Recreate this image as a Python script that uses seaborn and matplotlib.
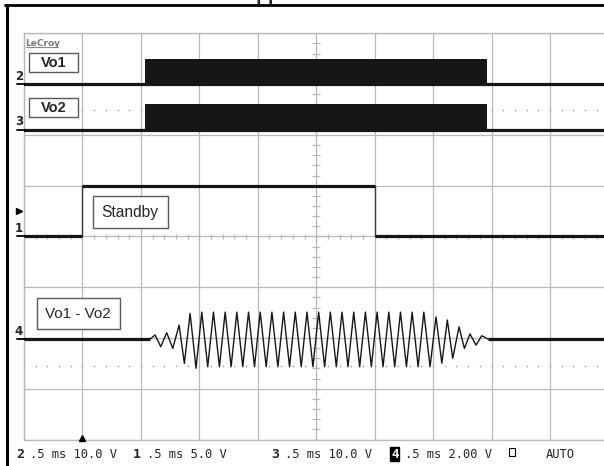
import numpy as np
import pandas as pd
import matplotlib
matplotlib.use("Agg")
import matplotlib.pyplot as plt
import seaborn as sns
from matplotlib.patches import Rectangle
from matplotlib.lines import Line2D
from matplotlib import font_manager

# ---------------- data (time in ms, trigger at 0, 0.5 ms/div) ----------------
t_start, t_end = -0.5, 4.5
volts_per_div = {"1": 5.0, "2": 10.0, "3": 10.0, "4": 2.0}
ground_div = {"1": 4.0, "2": 7.0, "3": 6.1, "4": 1.98}

# Vo1 / Vo2 switching bursts (appear as solid blocks at this time base)
burst_t = [0.536, 3.462]
burst_v = [0.0, 5.0]

# Standby logic signal
standby_t = [-0.5, 0.0, 0.0, 2.5, 2.5, 4.5]
standby_v = [0.0, 0.0, 5.0, 5.0, 0.0, 0.0]
trigger_level_v = 2.5

# Vo1 - Vo2 : extrema
ch4_t = [
    -0.500, 0.580, 0.621, 0.670, 0.721, 0.773, 0.827, 0.872, 0.921, 0.972,
    1.021, 1.072, 1.121, 1.172, 1.221, 1.272, 1.321, 1.372, 1.421, 1.472,
    1.521, 1.572, 1.621, 1.672, 1.721, 1.772, 1.821, 1.872, 1.921, 1.972,
    2.021, 2.072, 2.121, 2.172, 2.221, 2.272, 2.321, 2.372, 2.421, 2.472,
    2.521, 2.572, 2.621, 2.672, 2.721, 2.772, 2.821, 2.872, 2.921, 2.974,
    3.025, 3.075, 3.122, 3.168, 3.222, 3.268, 3.316, 3.368, 3.416, 3.470, 4.500]
ch4_v = [
    0.00, 0.00, 0.16, -0.30, 0.25, -0.37, 0.55, -0.96, 1.01, -1.15,
    1.06, -1.09, 1.06, -1.09, 1.06, -1.09, 1.06, -1.09, 1.06, -1.09,
    1.06, -1.09, 1.06, -1.09, 1.06, -1.09, 1.06, -1.09, 1.06, -1.09,
    1.06, -1.09, 1.06, -1.09, 1.06, -1.09, 1.06, -1.09, 1.06, -1.09,
    1.06, -1.09, 1.06, -1.09, 1.06, -1.09, 1.06, -1.09, 1.06, -1.09,
    0.87, -0.95, 0.75, -0.76, 0.48, -0.37, 0.20, -0.24, 0.13, 0.00, 0.00]

trace_labels = ["Vo1", "Vo2", "Standby", "Vo1 - Vo2"]
setup_channels = ["2", "1", "3", "4"]
setup_texts = [".5 ms 10.0 V", ".5 ms 5.0 V", ".5 ms 10.0 V", ".5 ms 2.00 V"]
trigger_mode = "AUTO"
title = "Application"

# ---------------- figure ----------------
sns.set_style("white")
plt.rcParams["font.family"] = ["Liberation Sans", "DejaVu Sans"]

W, H = 604, 466
fig = plt.figure(figsize=(W / 100, H / 100), dpi=100)

def fx(x):
    return x / W

def fy(y):
    return 1 - y / H

gx0, gx1 = 24.0, 608.4
gy0, gy1 = 33.3, 439.6
ax = fig.add_axes([fx(gx0), fy(gy1), (gx1 - gx0) / W, (gy1 - gy0) / H])
ax.set_xlim(t_start, t_end)
ax.set_ylim(0, 8)
ax.set_xticks(np.arange(t_start, t_end + 0.01, 0.5))
ax.set_yticks(np.arange(0, 9, 1))
ax.tick_params(length=0, labelbottom=False, labelleft=False)
grid_c = "#b9b9b9"
ax.grid(True, color=grid_c, lw=0.9)
for s in ax.spines.values():
    s.set_color(grid_c)
    s.set_linewidth(1.0)
ax.set_facecolor("white")

def to_div(ch, v):
    return ground_div[ch] + np.asarray(v, dtype=float) / volts_per_div[ch]

# centre cross ticks
ax.hlines(np.arange(0, 8.01, 0.2), 2.0 - 0.032, 2.0 + 0.032, color=grid_c, lw=0.9, zorder=1)
ax.vlines(np.arange(t_start, t_end + 0.01, 0.1), 4.0 - 0.055, 4.0 + 0.055, color=grid_c, lw=0.9, zorder=1)

# dotted reference levels
dots_t = np.arange(t_start, t_end + 0.01, 0.1)
for lvl in (6.49, 1.44):
    ax.plot(dots_t, np.full_like(dots_t, lvl), ls="none", marker="s", ms=1.0,
            mec="none", mfc="#9a9a9a", zorder=1)

trace_c = "#161616"

# Vo1 and Vo2
for ch in ("2", "3"):
    g = ground_div[ch]
    sns.lineplot(x=[t_start, t_end], y=[g, g], ax=ax, color=trace_c, lw=2.3,
                 estimator=None, sort=False, legend=False, zorder=3)
    lo, hi = to_div(ch, burst_v)
    ax.fill_between(burst_t, [lo, lo], [hi, hi], color=trace_c, lw=0, zorder=3)

# Standby
sy = to_div("1", standby_v)
sns.lineplot(x=standby_t, y=sy, ax=ax, color="#3a3a3a", lw=1.0,
             estimator=None, sort=False, legend=False, zorder=3)
for i in range(len(standby_t) - 1):
    if standby_v[i] == standby_v[i + 1]:
        ax.plot(standby_t[i:i + 2], sy[i:i + 2], color=trace_c, lw=2.3, zorder=4,
                solid_capstyle="butt")

# Vo1 - Vo2
cy = to_div("4", ch4_v)
sns.lineplot(x=ch4_t, y=cy, ax=ax, color=trace_c, lw=1.0,
             estimator=None, sort=False, legend=False, zorder=3)
ax.plot(ch4_t[:2], cy[:2], color=trace_c, lw=2.3, zorder=4, solid_capstyle="butt")
ax.plot(ch4_t[-2:], cy[-2:], color=trace_c, lw=2.3, zorder=4, solid_capstyle="butt")

# ---------------- annotations in pixel space ----------------
def fline(x0, y0, x1, y1, **kw):
    fig.add_artist(Line2D([fx(x0), fx(x1)], [fy(y0), fy(y1)], transform=fig.transFigure, **kw))

def fbox(x0, y0, x1, y1, **kw):
    fig.add_artist(Rectangle((fx(x0), fy(y1)), (x1 - x0) / W, (y1 - y0) / H,
                             transform=fig.transFigure, **kw))

# outer frame
fline(6.5, 5.0, 6.5, 470, color="black", lw=2.2)
fline(5.0, 5.2, 610, 5.2, color="black", lw=2.0)
fig.text(fx(242.5), fy(0.0), title, fontsize=14, fontweight="bold", ha="left", va="baseline")

# LeCroy logo
fig.text(fx(25.5), fy(45.5), "LeCroy", fontsize=6.5, color="#7a7a7a", fontweight="bold",
         family="DejaVu Sans", ha="left", va="baseline")
fline(25.5, 47.2, 57.5, 47.2, color="#8a8a8a", lw=0.8)

# label boxes
boxes = [(29.3, 52.7, 78.3, 71.7), (29.3, 97.7, 78.3, 117.3),
         (92.7, 196.0, 167.7, 227.7), (36.7, 298.0, 120.0, 329.0)]
weights = ["bold", "bold", "normal", "normal"]
sizes = [10.5, 10.5, 11.2, 11.0]
for (x0, y0, x1, y1), lab, w, sz in zip(boxes, trace_labels, weights, sizes):
    fbox(x0, y0, x1, y1, facecolor="white", edgecolor="#5a5a5a", lw=1.0, zorder=5)
    fig.text(fx((x0 + x1) / 2), fy((y0 + y1) / 2 + 0.5), lab, fontsize=sz, fontweight=w,
             ha="center", va="center", zorder=6)

# channel ground markers
def div_to_py(d):
    return gy1 - d * (gy1 - gy0) / 8

for ch in ("2", "3", "1", "4"):
    py = div_to_py(ground_div[ch])
    fline(16.5, py, 24.5, py, color="black", lw=1.3)
    fig.text(fx(18.8), fy(py - 1.5), ch, fontsize=8.5, fontweight="bold",
             family="DejaVu Sans", ha="center", va="bottom")

# trigger level marker
tpy = div_to_py(to_div("1", trigger_level_v))
fig.add_artist(Line2D([fx(19)], [fy(tpy)], marker=">", ms=3.8, color="black",
                      transform=fig.transFigure, ls="none"))
# trigger time marker
fig.add_artist(Line2D([fx(gx0 + (0 - t_start) / (t_end - t_start) * (gx1 - gx0))], [fy(437.8)],
                      marker="^", ms=4.2, color="black", transform=fig.transFigure, ls="none"))

# bottom setup line
mono = "DejaVu Sans Mono"
num_x = [16.0, 133.0, 271.0, 391.0]
for ch, txt, x in zip(setup_channels, setup_texts, num_x):
    if ch == "4":
        fig.text(fx(x), fy(457.5), ch, fontsize=9, fontweight="bold", family=mono, color="white",
                 ha="left", va="baseline",
                 bbox=dict(boxstyle="square,pad=0.05", facecolor="black", edgecolor="black"))
    else:
        fig.text(fx(x), fy(457.5), ch, fontsize=9.5, fontweight="bold", family=mono,
                 ha="left", va="baseline")
    fig.text(fx(x + 14), fy(457.5), txt, fontsize=8.7, family=mono, ha="left", va="baseline")
fbox(509, 448, 515, 456, facecolor="none", edgecolor="black", lw=0.8)
fig.text(fx(546), fy(457.5), trigger_mode, fontsize=8.7, family=mono, ha="left", va="baseline")

fig.savefig("out.png", dpi=100)
